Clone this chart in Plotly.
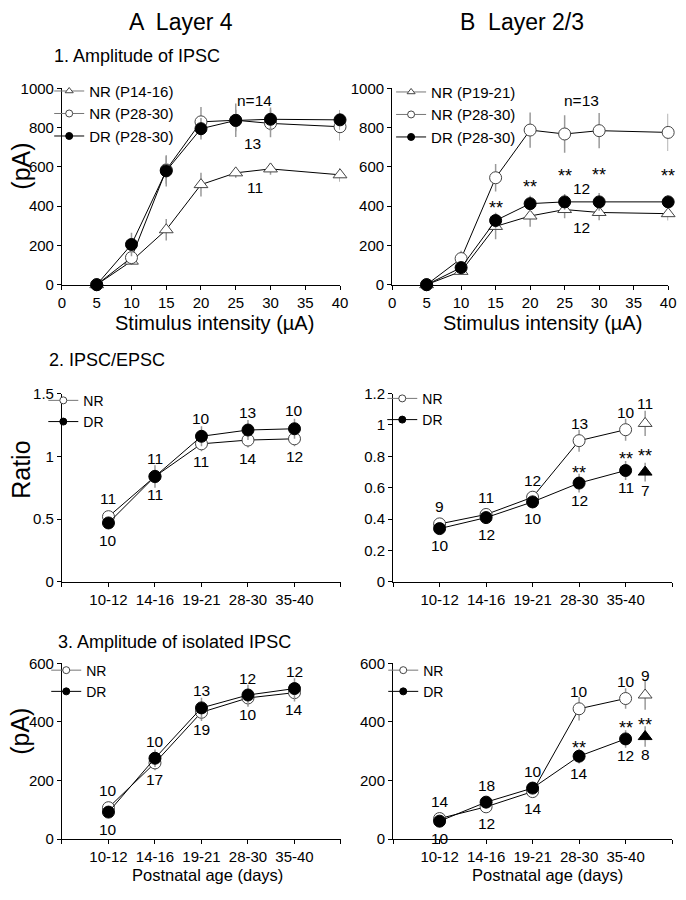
import plotly.graph_objects as go

W, H = 686, 900
FONT = "Liberation Sans, Arial, sans-serif"

# ---------------- Data ----------------
stim = [5, 10, 15, 20, 25, 30, 40]
stim_ticks = [0, 5, 10, 15, 20, 25, 30, 35, 40]

# A1: Layer 4 amplitude of IPSC (pA)
a1_nr_young = [0, 120, 280, 510, 570, 590, 560]
a1_nr_young_err = [0, 20, 55, 60, 25, 30, 35]
a1_nr_adult = [0, 138, 585, 830, 838, 822, 805]
a1_nr_adult_err = [0, 30, 70, 75, 85, 70, 70]
a1_dr = [0, 205, 580, 795, 837, 843, 840]
a1_dr_err = [0, 60, 80, 55, 55, 60, 50]

# B1: Layer 2/3 amplitude of IPSC (pA)
b1_nr_young = [0, 68, 297, 350, 383, 368, 362]
b1_nr_young_err = [0, 15, 65, 55, 45, 40, 35]
b1_nr_adult = [0, 133, 545, 788, 768, 785, 776]
b1_nr_adult_err = [0, 40, 70, 90, 95, 90, 95]
b1_dr = [0, 87, 327, 413, 422, 422, 422]
b1_dr_err = [0, 20, 40, 40, 40, 45, 35]

ages = ["10-12", "14-16", "19-21", "28-30", "35-40"]
extra_offset = 0.42  # extra (triangle) group drawn just right of last age

# A2 / B2: IPSC/EPSC ratio
a2_nr = [0.52, 0.84, 1.10, 1.13, 1.14]
a2_nr_err = [0.04, 0.06, 0.06, 0.06, 0.06]
a2_dr = [0.47, 0.84, 1.16, 1.21, 1.22]
a2_dr_err = [0.04, 0.09, 0.08, 0.08, 0.08]
b2_nr = [0.37, 0.43, 0.54, 0.90, 0.97]
b2_nr_err = [0.03, 0.03, 0.04, 0.07, 0.07]
b2_dr = [0.34, 0.41, 0.51, 0.63, 0.71]
b2_dr_err = [0.03, 0.03, 0.04, 0.06, 0.06]
b2_tri_open, b2_tri_open_err = 1.01, 0.08
b2_tri_fill, b2_tri_fill_err = 0.70, 0.06

# A3 / B3: amplitude of isolated IPSC (pA)
a3_nr = [107, 260, 433, 482, 500]
a3_nr_err = [20, 25, 30, 30, 30]
a3_dr = [92, 276, 448, 492, 514]
a3_dr_err = [20, 30, 35, 35, 35]
b3_nr = [70, 110, 162, 445, 480]
b3_nr_err = [10, 15, 15, 40, 35]
b3_dr = [61, 126, 174, 283, 342]
b3_dr_err = [10, 15, 15, 25, 30]
b3_tri_open, b3_tri_open_err = 492, 50
b3_tri_fill, b3_tri_fill_err = 350, 35

# n labels (above / below each age group)
a2_n_above = ["11", "11", "10", "13", "10"]
a2_n_below = ["10", "11", "11", "14", "12"]
b2_n_above = ["9", "11", "12", "13", "10"]
b2_n_below = ["10", "12", "10", "12", "11"]
b2_tri_n = ("11", "7")
a3_n_above = ["10", "10", "13", "12", "12"]
a3_n_below = ["10", "17", "19", "10", "14"]
b3_n_above = ["14", "18", "10", "10", "10"]
b3_n_below = ["10", "12", "14", "14", "12"]
b3_tri_n = ("9", "8")

# explicit text labels in top panels (x, y, text)
a1_labels = [(27.7, 940, "n=14"), (27.4, 720, "13"), (27.7, 497, "11")]
b1_labels = [(27.4, 940, "n=13"), (27.5, 490, "12"), (27.5, 290, "12")]
b1_stars_x = [15, 20, 25, 30, 40]
b1_stars_y = [422, 530, 585, 592, 585]
b2_stars_y = [0.73, 0.82, 0.84]   # at 28-30, 35-40, extra
b3_stars_y = [333, 400, 411]

# ---------------- Figure ----------------
fig = go.Figure()

GREY_ERR = "#9a9a9a"
OPEN_LINE = "#444444"


def marker_for(kind, size):
    if kind == "tri":
        return dict(symbol="triangle-up", size=size, color="white", line=dict(color=OPEN_LINE, width=1))
    if kind == "trifill":
        return dict(symbol="triangle-up", size=size, color="black", line=dict(color="black", width=1))
    if kind == "open":
        return dict(symbol="circle", size=size, color="white", line=dict(color=OPEN_LINE, width=1))
    return dict(symbol="circle", size=size, color="black", line=dict(color="black", width=1))


def add(xa, ya, x, y, err, kind, line=True):
    fig.add_trace(go.Scatter(
        x=x, y=y, xaxis=xa, yaxis=ya,
        mode="lines+markers" if line else "markers",
        line=dict(color="black", width=1),
        marker=marker_for(kind, 12),
        error_y=dict(type="data", array=err, color=GREY_ERR, thickness=1.5, width=0),
        cliponaxis=False, showlegend=False, hoverinfo="skip",
    ))


def legend_proxy(xa, ya, kind, name, legend):
    fig.add_trace(go.Scatter(
        x=[None], y=[None], xaxis=xa, yaxis=ya, name=name, mode="lines+markers",
        line=dict(color="#777777" if kind in ("tri", "open") else "black", width=1),
        marker=marker_for(kind, 7), showlegend=True, legend=legend,
    ))


idx = list(range(len(ages)))
xe = [len(ages) - 1 + extra_offset]

# A1
add("x", "y", stim, a1_nr_young, a1_nr_young_err, "tri")
add("x", "y", stim, a1_nr_adult, a1_nr_adult_err, "open")
add("x", "y", stim, a1_dr, a1_dr_err, "fill")
legend_proxy("x", "y", "tri", "NR (P14-16)", "legend")
legend_proxy("x", "y", "open", "NR (P28-30)", "legend")
legend_proxy("x", "y", "fill", "DR (P28-30)", "legend")
# B1
add("x2", "y2", stim, b1_nr_young, b1_nr_young_err, "tri")
add("x2", "y2", stim, b1_nr_adult, b1_nr_adult_err, "open")
add("x2", "y2", stim, b1_dr, b1_dr_err, "fill")
legend_proxy("x2", "y2", "tri", "NR (P19-21)", "legend2")
legend_proxy("x2", "y2", "open", "NR (P28-30)", "legend2")
legend_proxy("x2", "y2", "fill", "DR (P28-30)", "legend2")
# A2
add("x3", "y3", idx, a2_nr, a2_nr_err, "open")
add("x3", "y3", idx, a2_dr, a2_dr_err, "fill")
legend_proxy("x3", "y3", "open", "NR", "legend3")
legend_proxy("x3", "y3", "fill", "DR", "legend3")
# B2
add("x4", "y4", idx, b2_nr, b2_nr_err, "open")
add("x4", "y4", idx, b2_dr, b2_dr_err, "fill")
add("x4", "y4", xe, [b2_tri_open], [b2_tri_open_err], "tri", False)
add("x4", "y4", xe, [b2_tri_fill], [b2_tri_fill_err], "trifill", False)
legend_proxy("x4", "y4", "open", "NR", "legend4")
legend_proxy("x4", "y4", "fill", "DR", "legend4")
# A3
add("x5", "y5", idx, a3_nr, a3_nr_err, "open")
add("x5", "y5", idx, a3_dr, a3_dr_err, "fill")
legend_proxy("x5", "y5", "open", "NR", "legend5")
legend_proxy("x5", "y5", "fill", "DR", "legend5")
# B3
add("x6", "y6", idx, b3_nr, b3_nr_err, "open")
add("x6", "y6", idx, b3_dr, b3_dr_err, "fill")
add("x6", "y6", xe, [b3_tri_open], [b3_tri_open_err], "tri", False)
add("x6", "y6", xe, [b3_tri_fill], [b3_tri_fill_err], "trifill", False)
legend_proxy("x6", "y6", "open", "NR", "legend6")
legend_proxy("x6", "y6", "fill", "DR", "legend6")


# ---------------- Axes ----------------
def px_x(p):
    return p / W


def px_y(p):
    return 1 - p / H


TICK = 15
axis_common = dict(showline=True, linecolor="black", linewidth=1, ticks="outside",
                   ticklen=4, tickcolor="black", tickwidth=1, showgrid=False,
                   zeroline=False, tickfont=dict(family=FONT, size=TICK, color="black"))

xdom_l_top = [px_x(59), px_x(342)]
xdom_r_top = [px_x(395), px_x(676)]
xdom_l = [px_x(59), px_x(343)]
xdom_r = [px_x(396), px_x(680)]
ydom_top = [px_y(281), px_y(81)]
ydom_mid = [px_y(584), px_y(392)]
ydom_bot = [px_y(846), px_y(667)]

cat_tickvals = [-1] + idx + [len(ages)]
cat_ticktext = [""] + ages + [""]

layout = dict(
    width=W, height=H, margin=dict(l=0, r=0, t=0, b=0),
    paper_bgcolor="white", plot_bgcolor="white",
    font=dict(family=FONT, size=14, color="black"),
    xaxis=dict(domain=xdom_l_top, anchor="y", range=[0, 40], tickvals=stim_ticks, **axis_common),
    yaxis=dict(domain=ydom_top, anchor="x", range=[0, 1000], tickvals=[0, 200, 400, 600, 800, 1000], **axis_common),
    xaxis2=dict(domain=xdom_r_top, anchor="y2", range=[0, 40], tickvals=stim_ticks, **axis_common),
    yaxis2=dict(domain=ydom_top, anchor="x2", range=[0, 1000], tickvals=[0, 200, 400, 600, 800, 1000], **axis_common),
    xaxis3=dict(domain=xdom_l, anchor="y3", range=[-1, 5], tickvals=cat_tickvals, ticktext=cat_ticktext, **axis_common),
    yaxis3=dict(domain=ydom_mid, anchor="x3", range=[0, 1.5], tickvals=[0, 0.5, 1, 1.5], ticktext=["0", "0.5", "1", "1.5"], **axis_common),
    xaxis4=dict(domain=xdom_r, anchor="y4", range=[-1, 5], tickvals=cat_tickvals, ticktext=cat_ticktext, **axis_common),
    yaxis4=dict(domain=ydom_mid, anchor="x4", range=[0, 1.2], tickvals=[0, 0.2, 0.4, 0.6, 0.8, 1.0, 1.2],
                ticktext=["0", "0.2", "0.4", "0.6", "0.8", "1", "1.2"], **axis_common),
    xaxis5=dict(domain=xdom_l, anchor="y5", range=[-1, 5], tickvals=cat_tickvals, ticktext=cat_ticktext, **axis_common),
    yaxis5=dict(domain=ydom_bot, anchor="x5", range=[0, 600], tickvals=[0, 200, 400, 600], **axis_common),
    xaxis6=dict(domain=xdom_r, anchor="y6", range=[-1, 5], tickvals=cat_tickvals, ticktext=cat_ticktext, **axis_common),
    yaxis6=dict(domain=ydom_bot, anchor="x6", range=[0, 600], tickvals=[0, 200, 400, 600], **axis_common),
)


def legend_at(text_x, row1_y, size):
    return dict(x=px_x(text_x - 34), y=px_y(row1_y - 21), xanchor="left", yanchor="top",
                bgcolor="rgba(0,0,0,0)", borderwidth=0, traceorder="normal",
                font=dict(family=FONT, size=size, color="black"), itemwidth=30)


layout["legend"] = legend_at(80, 88, 15)
layout["legend2"] = legend_at(428, 89, 15)
layout["legend3"] = legend_at(74, 404, 14)
layout["legend4"] = legend_at(419, 402, 14)
layout["legend5"] = legend_at(77, 679, 14)
layout["legend6"] = legend_at(420, 679, 14)
fig.update_layout(**layout)

# ---------------- Annotations ----------------
ann = []


def txt(x, y, text, size=15, xref="paper", yref="paper", yshift=0, angle=0, xanchor="center"):
    ann.append(dict(x=x, y=y, text=text, xref=xref, yref=yref, showarrow=False,
                    xanchor=xanchor, yanchor="middle", yshift=yshift, textangle=angle,
                    font=dict(family=FONT, size=size, color="black")))


# headers
txt(px_x(180), px_y(13), "A  Layer 4", 23)
txt(px_x(527), px_y(13), "B  Layer 2/3", 23)
txt(px_x(49), px_y(48), "1. Amplitude of IPSC", 18, xanchor="left")
txt(px_x(44), px_y(358), "2. IPSC/EPSC", 18, xanchor="left")
txt(px_x(53), px_y(645), "3. Amplitude of isolated IPSC", 18, xanchor="left")
# axis titles
txt(px_x(214), px_y(320), "Stimulus intensity (µA)", 20)
txt(px_x(548), px_y(320), "Stimulus intensity (µA)", 20)
txt(px_x(207), px_y(883), "Postnatal age (days)", 16.5)
txt(px_x(553), px_y(883), "Postnatal age (days)", 16.5)
txt(px_x(17), px_y(160), "(pA)", 25, angle=-90)
txt(px_x(17), px_y(470), "Ratio", 25, angle=-90)
txt(px_x(16), px_y(736), "(pA)", 25, angle=-90)

NS = 15.5
# top panel labels
for x, y, t in a1_labels:
    txt(x, y, t, NS, "x", "y")
for x, y, t in b1_labels:
    txt(x, y, t, NS, "x2", "y2")
for x, y in zip(b1_stars_x, b1_stars_y):
    txt(x, y, "**", 18, "x2", "y2", yshift=-6)


def n_labels(xa, ya, s1, s2, above, below, shift):
    for i, (a, b) in enumerate(zip(above, below)):
        txt(i, max(s1[i], s2[i]), a, NS, xa, ya, yshift=shift)
        txt(i, min(s1[i], s2[i]), b, NS, xa, ya, yshift=-shift)


n_labels("x3", "y3", a2_nr, a2_dr, a2_n_above, a2_n_below, 18)
n_labels("x4", "y4", b2_nr, b2_dr, b2_n_above, b2_n_below, 17)
n_labels("x5", "y5", a3_nr, a3_dr, a3_n_above, a3_n_below, 17)
n_labels("x6", "y6", b3_nr, b3_dr, b3_n_above, b3_n_below, 17)

txt(xe[0], b2_tri_open, b2_tri_n[0], NS, "x4", "y4", yshift=20)
txt(xe[0], b2_tri_fill, b2_tri_n[1], NS, "x4", "y4", yshift=-18)
txt(xe[0], b3_tri_open, b3_tri_n[0], NS, "x6", "y6", yshift=20)
txt(xe[0], b3_tri_fill, b3_tri_n[1], NS, "x6", "y6", yshift=-18)

star_x = [3, 4, xe[0]]
for x, y in zip(star_x, b2_stars_y):
    txt(x, y, "**", 18, "x4", "y4", yshift=-6)
for x, y in zip(star_x, b3_stars_y):
    txt(x, y, "**", 18, "x6", "y6", yshift=-6)

fig.update_layout(annotations=ann)
fig.write_html("out.html", config={"displayModeBar": False},
               post_script="document.body.style.margin='0';")
